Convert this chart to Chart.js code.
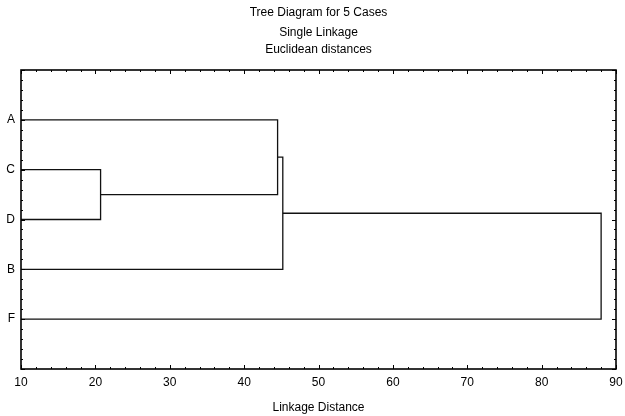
<!DOCTYPE html>
<html>
<head>
<meta charset="utf-8">
<script src="https://cdn.jsdelivr.net/npm/chart.js@4.4.1/dist/chart.umd.min.js"></script>
<style>
html,body{margin:0;padding:0;background:#fff;}
#wrap{width:625px;height:416px;position:relative;}
</style>
</head>
<body>
<div id="wrap"><canvas id="c" width="625" height="416"></canvas></div>
<script>
// ---- data ----
const titleLines = ['Tree Diagram for 5 Cases', 'Single Linkage', 'Euclidean distances'];
const xAxisTitle = 'Linkage Distance';
const cases = ['A', 'C', 'D', 'B', 'F'];
// merges: cluster indices (0..4 are the cases, 5.. are merged clusters in order)
const mergeLeft = [1, 0, 6, 7];
const mergeRight = [2, 5, 3, 4];
const mergeDistance = [20.7, 44.5, 45.2, 88.0];
const distanceMin = 10;
const distanceMax = 90;
const distanceStep = 10;

// ---- build dendrogram paths ----
const nodeY = cases.map((c, i) => i + 1);
const nodeH = cases.map(() => distanceMin);
const datasets = [];
mergeDistance.forEach((d, k) => {
  const l = mergeLeft[k], r = mergeRight[k];
  datasets.push({
    data: [
      {x: nodeH[l], y: nodeY[l]},
      {x: d, y: nodeY[l]},
      {x: d, y: nodeY[r]},
      {x: nodeH[r], y: nodeY[r]}
    ],
    borderColor: '#111',
    borderWidth: 1.3,
    pointRadius: 0,
    fill: false,
    tension: 0
  });
  nodeY.push((nodeY[l] + nodeY[r]) / 2);
  nodeH.push(d);
});

const FONT = "'Liberation Sans', Arial, sans-serif";

const framePlugin = {
  id: 'frame',
  afterDraw(chart) {
    const {ctx, chartArea: a, scales} = chart;
    const xs = scales.x, ys = scales.y;
    ctx.save();
    ctx.strokeStyle = '#000';
    // inward ticks
    ctx.lineWidth = 1;
    for (let v = distanceMin; v <= distanceMax + 1e-9; v += 2) {
      const px = Math.round(xs.getPixelForValue(v)) + 0.5;
      const len = (Math.abs((v - distanceMin) % distanceStep) < 1e-6) ? 4 : 2;
      ctx.beginPath();
      ctx.moveTo(px, a.bottom); ctx.lineTo(px, a.bottom - len);
      ctx.moveTo(px, a.top); ctx.lineTo(px, a.top + len);
      ctx.stroke();
    }
    for (let i = 0; i <= 30; i++) {
      const v = i * 0.2;
      const py = Math.round(ys.getPixelForValue(v)) + 0.5;
      const len = (i % 5 === 0) ? 4 : 2;
      ctx.beginPath();
      ctx.moveTo(a.left, py); ctx.lineTo(a.left + len, py);
      ctx.moveTo(a.right, py); ctx.lineTo(a.right - len, py);
      ctx.stroke();
    }
    // frame
    ctx.lineWidth = 1.6;
    ctx.strokeRect(a.left, a.top, a.right - a.left, a.bottom - a.top);
    // titles
    ctx.fillStyle = '#000';
    ctx.textAlign = 'center';
    ctx.textBaseline = 'middle';
    ctx.font = '12px ' + FONT;
    const cx = (a.left + a.right) / 2;
    const ty = [13, 33, 50];
    titleLines.forEach((t, i) => ctx.fillText(t, cx, ty[i]));
    ctx.restore();
  }
};

new Chart(document.getElementById('c'), {
  type: 'line',
  data: {datasets},
  options: {
    responsive: false,
    animation: false,
    devicePixelRatio: 1,
    layout: {padding: {top: 70, right: 9, left: 0, bottom: 0}},
    plugins: {legend: {display: false}, tooltip: {enabled: false}, title: {display: false}},
    scales: {
      x: {
        type: 'linear',
        min: distanceMin,
        max: distanceMax,
        ticks: {stepSize: distanceStep, color: '#000', font: {family: FONT, size: 12}, padding: 6, maxRotation: 0, autoSkip: false},
        grid: {display: false, drawTicks: false},
        border: {display: false},
        title: {display: true, text: xAxisTitle, color: '#000', font: {family: FONT, size: 12}, padding: {top: 4, bottom: 1}},
        afterFit(scale) { scale.height = 47; scale.paddingLeft = 0; scale.paddingRight = 0; }
      },
      y: {
        type: 'linear',
        reverse: true,
        min: 0,
        max: cases.length + 1,
        ticks: {
          stepSize: 1,
          color: '#000',
          font: {family: FONT, size: 12},
          padding: 6,
          autoSkip: false,
          callback: v => (v >= 1 && v <= cases.length) ? cases[v - 1] : ''
        },
        grid: {display: false, drawTicks: false},
        border: {display: false},
        afterFit(scale) { scale.width = 21; scale.paddingTop = 0; scale.paddingBottom = 0; }
      }
    }
  },
  plugins: [framePlugin]
});
</script>
</body>
</html>
